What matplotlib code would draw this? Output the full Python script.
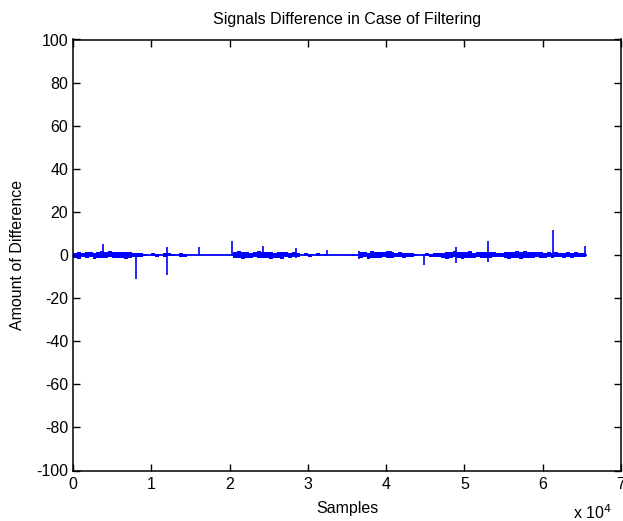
import numpy as np
import matplotlib
matplotlib.use("Agg")
import matplotlib.pyplot as plt

plt.rcParams['font.family'] = ['Liberation Sans', 'DejaVu Sans']
plt.rcParams['axes.unicode_minus'] = False

# ---- data ----
n_samples = 65536
bin_width = 500  # samples per envelope bin

# upper / lower envelope of the noisy difference signal, per 500-sample bin
env_hi = [1.0, 1.5, 0.9, 1.3, 1.6, 1.1, 1.4, 1.7, 1.2, 1.8, 1.4, 1.3, 1.6, 1.2, 1.5, 1.1, 1.0,
          0.7, 0.6, 0.0, 0.7, 0.6, 0.0, 0.8,
          0.7, 0.3, 0.0, 0.7, 0.6, 0.0,
          0, 0, 0, 0, 0, 0, 0, 0, 0, 0, 0,
          1.4, 1.7, 1.2, 1.5, 1.1, 1.4, 1.8, 1.2, 1.5, 1.3, 1.1, 1.6, 1.2, 1.5, 1.0, 1.2,
          0.8, 0.0, 0.7, 0.6, 0.0, 0.7, 0.0, 0.6, 0.0,
          0, 0, 0, 0, 0, 0, 0,
          1.3, 1.6, 1.1, 1.7, 1.3, 1.2, 1.5, 1.8, 1.2, 1.0, 1.4, 0.9, 1.1, 0.8,
          0.3, 0.0, 0.0,
          0.7, 0.6, 0.8, 1.0,
          1.1, 1.4, 1.2, 1.7, 1.5, 1.2, 1.4, 1.8, 1.1, 1.5, 1.2, 1.6, 1.3, 1.2, 1.0, 0.9, 1.3, 1.5, 1.3,
          1.7, 1.2, 1.8, 1.5, 1.3, 1.2, 1.6, 1.1, 1.4, 1.0, 1.3, 0.9, 1.1, 1.4, 1.0, 1.2, 0.8, 1.1, 1.0]
env_lo = [-1.3, -1.7, -1.0, -1.5, -1.1, -1.8, -1.3, -1.2, -1.6, -1.1, -1.5, -1.2, -1.4, -1.7, -1.2, -1.0, -0.9,
          -0.7, -0.6, 0.0, -0.6, -0.7, 0.0, -0.7,
          -0.6, -0.3, 0.0, -0.8, -0.7, 0.0,
          0, 0, 0, 0, 0, 0, 0, 0, 0, 0, 0,
          -1.5, -1.2, -1.8, -1.3, -1.6, -1.1, -1.4, -1.5, -1.2, -1.7, -1.3, -1.2, -1.8, -1.1, -1.4, -1.0,
          -0.9, 0.0, -0.6, -0.7, 0.0, -0.6, 0.0, -0.5, 0.0,
          0, 0, 0, 0, 0, -0.5, 0,
          -1.4, -1.1, -1.7, -1.2, -1.5, -1.3, -1.1, -1.6, -1.2, -1.0, -0.9, -1.2, -0.8, -0.7,
          -0.3, 0.0, 0.0,
          -0.6, -0.7, -0.9, -1.0,
          -1.2, -1.7, -1.3, -1.1, -1.5, -1.8, -1.2, -1.4, -1.6, -1.1, -1.5, -1.2, -1.4, -1.0, -0.9, -1.1, -1.4, -1.7, -1.2,
          -1.5, -1.8, -1.3, -1.2, -1.6, -1.1, -1.4, -1.5, -1.0, -1.3, -0.9, -1.1, -1.3, -1.0, -1.4, -0.8, -1.1, -1.0, -0.9]

# isolated spikes: sample index, peak above and below zero
spike_x = [3830, 8040, 12070, 16070, 20280, 24250, 28440, 32490, 36480, 40560,
           44860, 48890, 53030, 61260, 65350]
spike_hi = [5.2, 0.5, 3.6, 3.6, 6.3, 4.4, 3.2, 2.4, 2.0, 2.0, 0.3, 3.9, 6.3, 11.7, 4.4]
spike_lo = [-0.5, -11.0, -9.2, 0.0, -0.5, -1.0, -1.5, 0.0, -2.0, -0.5, -4.5, -3.8, -3.3, -0.5, 0.0]

x_ticks = [0, 10000, 20000, 30000, 40000, 50000, 60000, 70000]
x_tick_labels = ["0", "1", "2", "3", "4", "5", "6", "7"]
y_ticks = [-100, -80, -60, -40, -20, 0, 20, 40, 60, 80, 100]

# ---- figure ----
fig = plt.figure(figsize=(6.23, 5.21), dpi=100)
ax = fig.add_axes([73 / 623, 1 - 470.5 / 521, (621 - 73) / 623, (470.5 - 39.5) / 521])

blue = (0, 0, 1)
edges = [i * bin_width for i in range(len(env_hi))] + [n_samples]
ax.fill_between(edges, env_lo + [env_lo[-1]], env_hi + [env_hi[-1]],
                step='post', color=blue, linewidth=0)
ax.plot([0, n_samples], [0, 0], color=blue, linewidth=1.3)
ax.vlines(spike_x, spike_lo, spike_hi, color=blue, linewidth=1.2)

ax.set_xlim(0, 70000)
ax.set_ylim(-100, 100)
ax.set_xticks(x_ticks)
ax.set_xticklabels(x_tick_labels)
ax.set_yticks(y_ticks)
ax.tick_params(direction='in', top=True, right=True, length=5, width=1,
               labelsize=11.5, colors='black')
ax.tick_params(axis='x', pad=5)
for s in ax.spines.values():
    s.set_linewidth(1.1)

ax.set_title("Signals Difference in Case of Filtering", fontsize=11.5, pad=11)
ax.set_xlabel("Samples", fontsize=11.5, labelpad=6)
ax.set_ylabel("Amount of Difference", fontsize=11.5, labelpad=8)
ax.text(0.912, -0.097, r"x 10$^{4}$", transform=ax.transAxes, fontsize=11.5,
        ha='left', va='center')

fig.savefig("out.png", dpi=100)
